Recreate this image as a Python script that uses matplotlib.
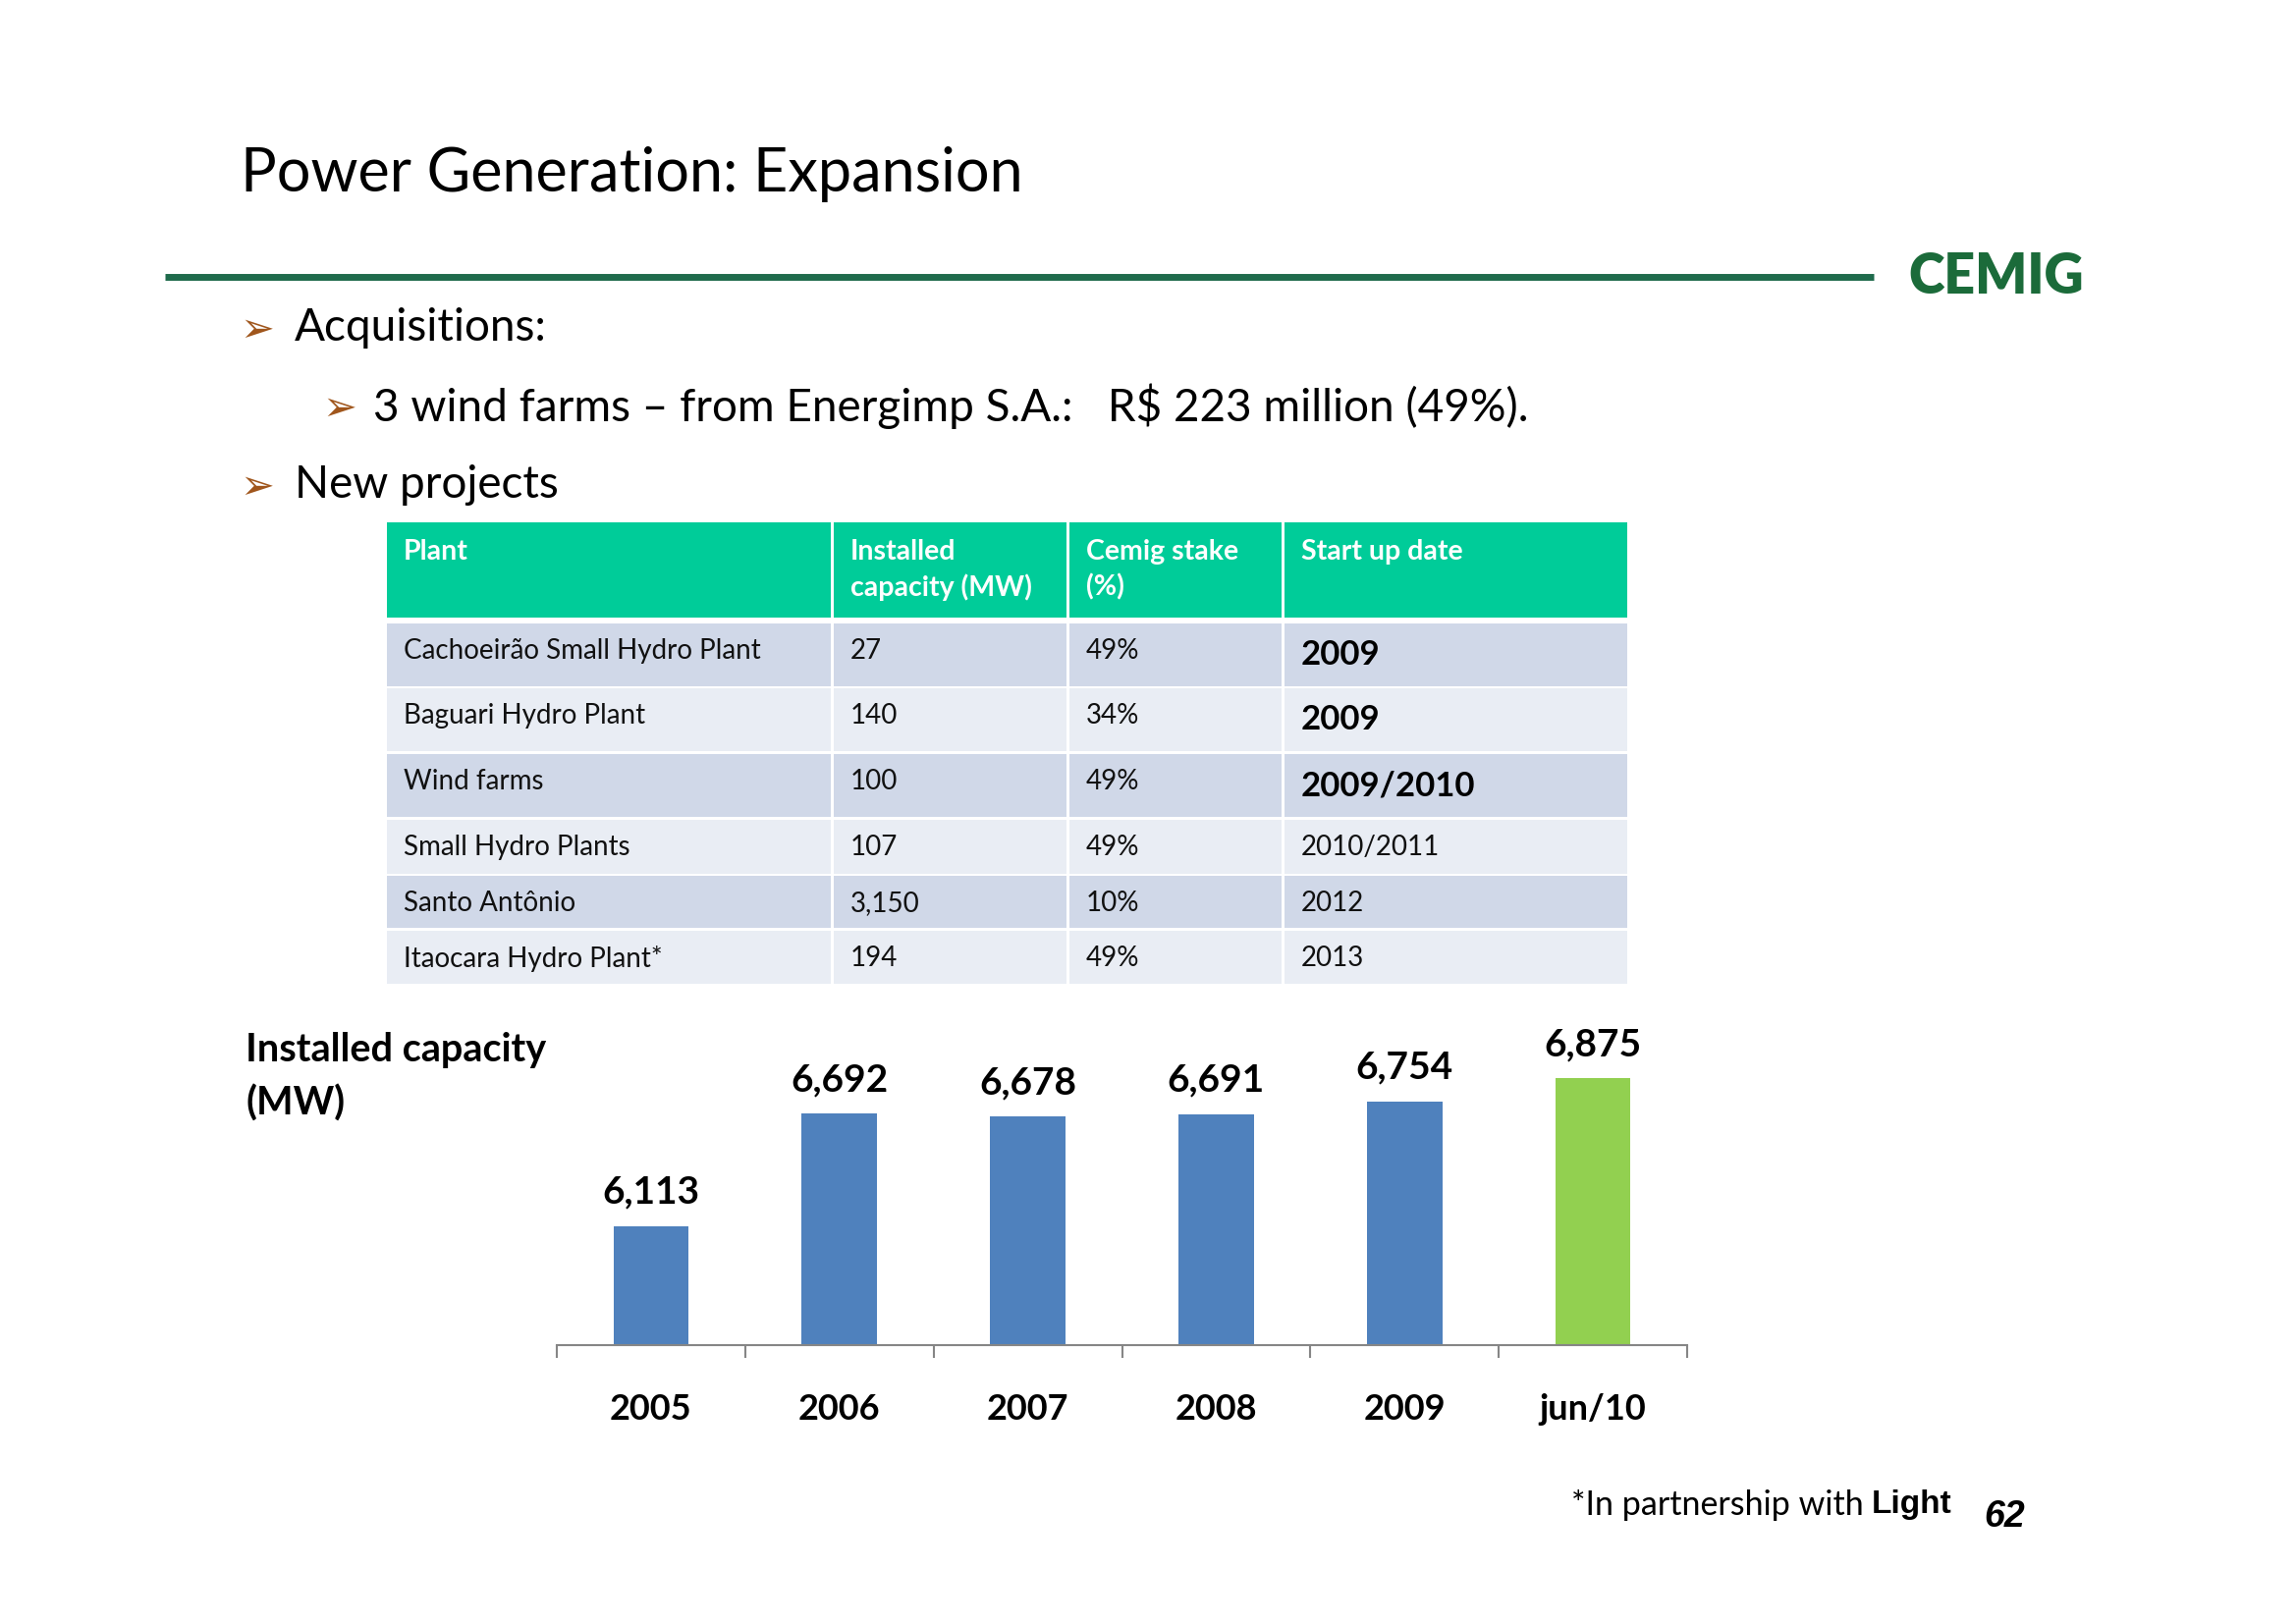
import matplotlib.pyplot as plt
from matplotlib.patches import Rectangle

W, H = 2338, 1652

# chart data
years = ['2005', '2006', '2007', '2008', '2009', 'jun/10']
capacity_mw = [6113, 6692, 6678, 6691, 6754, 6875]
bar_colors = ['#4F81BD'] * 5 + ['#92D050']

# table data
col_heads = ['Plant', 'Installed\ncapacity (MW)', 'Cemig stake\n(%)', 'Start up date']
plants = ['Cachoeirão Small Hydro Plant', 'Baguari Hydro Plant', 'Wind farms',
          'Small Hydro Plants', 'Santo Antônio', 'Itaocara Hydro Plant*']
plant_mw = ['27', '140', '100', '107', '3,150', '194']
stake = ['49%', '34%', '49%', '49%', '10%', '49%']
start_up = ['2009', '2009', '2009/2010', '2010/2011', '2012', '2013']
highlight = [True, True, True, False, False, False]

plt.rcParams['font.family'] = ['Lato', 'DejaVu Sans']

fig = plt.figure(figsize=(W / 100, H / 100), dpi=100)
bg = fig.add_axes([0, 0, 1, 1])
bg.set_xlim(0, W)
bg.set_ylim(H, 0)
bg.axis('off')

# title + rule + logo
bg.text(245, 177, 'Power Generation: Expansion', fontsize=44, va='center', color='black')
bg.plot([168, 1908], [282, 282], color='#1F6B4C', lw=5, solid_capstyle='butt')
bg.text(2033, 282, 'CEMIG', fontsize=40, fontweight='heavy',
        color='#1B6B3A', ha='center', va='center')

# bullets
arrow_col = '#A0561C'
bullet_font = dict(fontsize=33, color='black', va='center')
arrow_font = dict(fontsize=30, color=arrow_col, va='center', family='DejaVu Sans')
bg.text(244, 336, '➢', **arrow_font)
bg.text(300, 334, 'Acquisitions:', **bullet_font)
bg.text(328, 416, '➢', **arrow_font)
bg.text(380, 414, '3 wind farms \u2013 from Energimp S.A.:   R$ 223 million (49%).', **bullet_font)
bg.text(244, 496, '➢', **arrow_font)
bg.text(300, 494, 'New projects', **bullet_font)

# table
col_x = [392, 847, 1087, 1306, 1658]
head_top, head_bot = 532, 629
row_tops = [635, 701, 768, 835, 892, 948]
row_bots = [699, 765, 832, 890, 945, 1002]
row_cols = ['#D0D8E8', '#E9EDF4']
gap = 3

for j, head in enumerate(col_heads):
    bg.add_patch(Rectangle((col_x[j] + gap / 2, head_top), col_x[j + 1] - col_x[j] - gap,
                           head_bot - head_top, color='#00CC99', lw=0))
    bg.text(col_x[j] + 19, head_top + 17, head, fontsize=20.5, fontweight='bold',
            color='white', va='top', linespacing=1.4)

cells = list(zip(plants, plant_mw, stake, start_up))
for i, row in enumerate(cells):
    for j, val in enumerate(row):
        bg.add_patch(Rectangle((col_x[j] + gap / 2, row_tops[i]), col_x[j + 1] - col_x[j] - gap,
                               row_bots[i] - row_tops[i], color=row_cols[i % 2], lw=0))
        if j == 3 and highlight[i]:
            bg.text(col_x[j] + 19, row_tops[i] + 32, val, fontsize=25, fontweight='bold',
                    color='black', va='center')
        else:
            bg.text(col_x[j] + 19, row_tops[i] + 28, val, fontsize=20, color='#111111', va='center')

# chart label + footnote
bg.text(250, 1051, 'Installed capacity\n(MW)', fontsize=28.5, fontweight='bold', va='top',
        linespacing=1.55)
bg.text(1988, 1533, 'Light', fontsize=24, fontweight='bold', ha='right', va='center',
        family='Liberation Sans')
bg.text(1898, 1533, '*In partnership with', fontsize=24.5, ha='right', va='center')
bg.text(2020, 1545, '62', fontsize=27, fontweight='bold', fontstyle='italic', va='center',
        family='Liberation Sans')

# bar chart
ax = fig.add_axes([567 / W, (H - 1370) / H, 1151 / W, 330 / H])
x = range(len(years))
bars = ax.bar(x, capacity_mw, width=0.4, color=bar_colors)
ax.set_xlim(-0.5, len(years) - 0.5)
ax.set_ylim(5500, 7170)
ax.set_yticks([])
for s in ['top', 'right', 'left']:
    ax.spines[s].set_visible(False)
ax.spines['bottom'].set_color('#868686')
ax.spines['bottom'].set_linewidth(1.5)
ax.patch.set_alpha(0)

ax.set_xticks([k - 0.5 for k in range(len(years) + 1)])
ax.set_xticklabels([])
ax.tick_params(axis='x', which='major', length=9, width=1.5, color='#868686', direction='out')
ax.set_xticks(list(x), minor=True)
ax.set_xticklabels(years, minor=True, fontsize=26, fontweight='bold')
ax.tick_params(axis='x', which='minor', length=0, pad=35)

for b, v in zip(bars, capacity_mw):
    ax.annotate(f'{v:,}', (b.get_x() + b.get_width() / 2, v), xytext=(0, 25),
                textcoords='offset points', ha='center', va='center',
                fontsize=28, fontweight='bold')

fig.savefig('out.png', dpi=100)
